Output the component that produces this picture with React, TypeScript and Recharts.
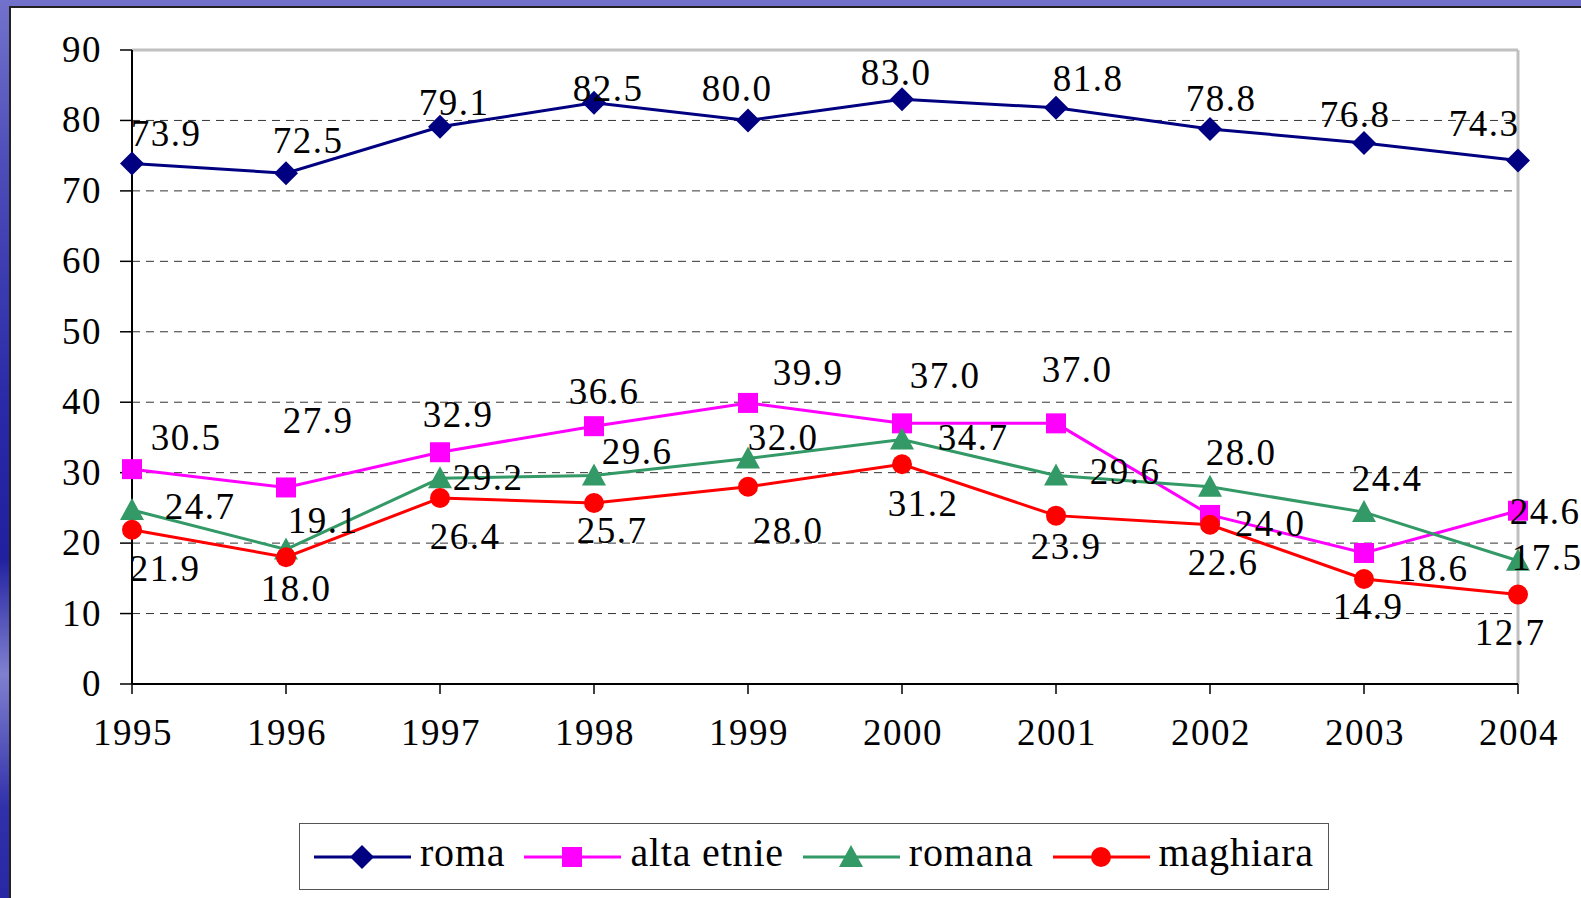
import { LineChart, Line, XAxis, YAxis, CartesianGrid, ReferenceLine, Legend, LabelList } from "recharts";

const years = ["1995", "1996", "1997", "1998", "1999", "2000", "2001", "2002", "2003", "2004"];
const roma = [73.9, 72.5, 79.1, 82.5, 80.0, 83.0, 81.8, 78.8, 76.8, 74.3];
const altaEtnie = [30.5, 27.9, 32.9, 36.6, 39.9, 37.0, 37.0, 24.0, 18.6, 24.6];
const romana = [24.7, 19.1, 29.2, 29.6, 32.0, 34.7, 29.6, 28.0, 24.4, 17.5];
const maghiara = [21.9, 18.0, 26.4, 25.7, 28.0, 31.2, 23.9, 22.6, 14.9, 12.7];
const yTicks = [0, 10, 20, 30, 40, 50, 60, 70, 80, 90];

// label nudges (px from the point), as placed by hand in the original slide
const romaShift = [[33, -29], [21, -32], [13, -24], [13, -14], [-12, -31], [-7, -26], [31, -29], [10, -30], [-10, -28], [-35, -37]];
const altaShift = [[53, -31], [31, -66], [17, -37], [9, -34], [59, -30], [42, -47], [20, -53], [59, 9], [68, 16], [26, 1]];
const romanaShift = [[67, -3], [36, -28], [47, 0], [42, -23], [34, -21], [70, -2], [68, -3], [30, -34], [22, -33], [28, -3]];
const maghiaraShift = [[32, 39], [9, 32], [24, 39], [17, 28], [39, 44], [20, 40], [9, 31], [12, 38], [3, 28], [-9, 38]];

const data = years.map((year, i) => ({
  year,
  roma: roma[i],
  alta: altaEtnie[i],
  romana: romana[i],
  maghiara: maghiara[i],
}));

const FONT = "Liberation Serif, Tinos, Times New Roman, Times, DejaVu Serif, serif";

type Shape = "diamond" | "square" | "triangle" | "circle";

const series: { key: string; name: string; color: string; shape: Shape; shift: number[][] }[] = [
  { key: "roma", name: "roma", color: "#000080", shape: "diamond", shift: romaShift },
  { key: "alta", name: "alta etnie", color: "#ff00ff", shape: "square", shift: altaShift },
  { key: "romana", name: "romana", color: "#339966", shape: "triangle", shift: romanaShift },
  { key: "maghiara", name: "maghiara", color: "#ff0000", shape: "circle", shift: maghiaraShift },
];

function Marker({ shape, cx, cy, color }: { shape: Shape; cx: number; cy: number; color: string }) {
  if (cx == null || cy == null) return null;
  if (shape === "diamond")
    return <polygon points={`${cx},${cy - 12} ${cx + 12},${cy} ${cx},${cy + 12} ${cx - 12},${cy}`} fill={color} />;
  if (shape === "square") return <rect x={cx - 10} y={cy - 10} width={20} height={20} fill={color} />;
  if (shape === "triangle")
    return <polygon points={`${cx},${cy - 12} ${cx + 12},${cy + 10} ${cx - 12},${cy + 10}`} fill={color} />;
  return <circle cx={cx} cy={cy} r={10} fill={color} />;
}

function XTick({ x, y, payload }: any) {
  return (
    <text x={x + 1} y={y} dy={41} textAnchor="middle" fill="#000" style={{ fontFamily: FONT, fontSize: 37, letterSpacing: 1.5 }}>
      {payload.value}
    </text>
  );
}

function YTick({ x, y, payload }: any) {
  return (
    <text x={x} y={y} dy={12} textAnchor="end" fill="#000" style={{ fontFamily: FONT, fontSize: 37, letterSpacing: 1.5 }}>
      {payload.value}
    </text>
  );
}

function LegendBox() {
  return (
    <div
      style={{
        boxSizing: "border-box",
        width: 1030,
        height: 67,
        border: "1.5px solid #555",
        display: "flex",
        alignItems: "center",
        paddingLeft: 14,
        background: "#fff",
        whiteSpace: "nowrap",
        overflow: "hidden",
      }}
    >
      {series.map((s, i) => (
        <div key={s.key} style={{ display: "flex", alignItems: "center", flexShrink: 0, marginRight: i < series.length - 1 ? 19 : 0 }}>
          <svg width={97} height={30} style={{ display: "block", flexShrink: 0 }}>
            <line x1={0} x2={97} y1={15} y2={15} stroke={s.color} strokeWidth={3} />
            <Marker shape={s.shape} cx={48} cy={15} color={s.color} />
          </svg>
          <span
            style={{
              fontFamily: FONT,
              fontSize: 40,
              lineHeight: 1,
              letterSpacing: 0.8,
              marginLeft: 9,
              position: "relative",
              top: -4,
              color: "#000",
              whiteSpace: "nowrap",
            }}
          >
            {s.name}
          </span>
        </div>
      ))}
    </div>
  );
}

export default function App() {
  return (
    <div
      style={{
        position: "absolute",
        left: 0,
        top: 0,
        width: 1581,
        height: 898,
        overflow: "hidden",
        background: "linear-gradient(to bottom, #7272cc 0%, #4a4ab8 20%, #2a2aa8 45%, #2020a0 62%, #8080d0 75%, #3030aa 90%, #2828a6 100%)",
      }}
    >
      <div
        style={{
          position: "absolute",
          left: 9,
          top: 6,
          right: 0,
          bottom: 0,
          background: "#fff",
          borderLeft: "2px solid #222",
          borderTop: "2px solid #222",
        }}
      />
      <div style={{ position: "absolute", left: 0, top: 0 }}>
        <LineChart width={1581} height={898} data={data} margin={{ top: 50, right: 63, left: 0, bottom: 154 }}>
          <CartesianGrid vertical={false} stroke="#333" strokeDasharray="8 6" strokeWidth={1} />
          <ReferenceLine y={90} stroke="#c0c0c0" strokeWidth={3} />
          <ReferenceLine x="2004" stroke="#c0c0c0" strokeWidth={3} />
          <XAxis
            dataKey="year"
            interval={0}
            height={60}
            tickSize={10}
            tickMargin={10}
            axisLine={{ stroke: "#000", strokeWidth: 2 }}
            tickLine={{ stroke: "#000", strokeWidth: 1.5 }}
            tick={<XTick />}
          />
          <YAxis
            domain={[0, 90]}
            ticks={yTicks}
            width={132}
            tickSize={12}
            tickMargin={18}
            axisLine={{ stroke: "#000", strokeWidth: 2 }}
            tickLine={{ stroke: "#000", strokeWidth: 1.5 }}
            tick={<YTick />}
          />
          {series.map((s) => (
            <Line
              key={s.key}
              dataKey={s.key}
              name={s.name}
              stroke={s.color}
              strokeWidth={3}
              isAnimationActive={false}
              activeDot={false}
              dot={(p: any) => <Marker key={`${s.key}-${p.index}`} shape={s.shape} cx={p.cx} cy={p.cy} color={s.color} />}
            >
              <LabelList
                dataKey={s.key}
                content={(p: any) => {
                  const d = s.shift[p.index] || [0, 0];
                  return (
                    <text
                      x={p.x + d[0] + 1}
                      y={p.y + d[1]}
                      dy={12}
                      textAnchor="middle"
                      fill="#000"
                      style={{ fontFamily: FONT, fontSize: 37, letterSpacing: 1.5 }}
                    >
                      {Number(p.value).toFixed(1)}
                    </text>
                  );
                }}
              />
            </Line>
          ))}
          <Legend
            layout="horizontal"
            verticalAlign="middle"
            wrapperStyle={{ left: 299, top: 823, width: 1030, height: 67 }}
            content={() => <LegendBox />}
          />
        </LineChart>
      </div>
    </div>
  );
}
